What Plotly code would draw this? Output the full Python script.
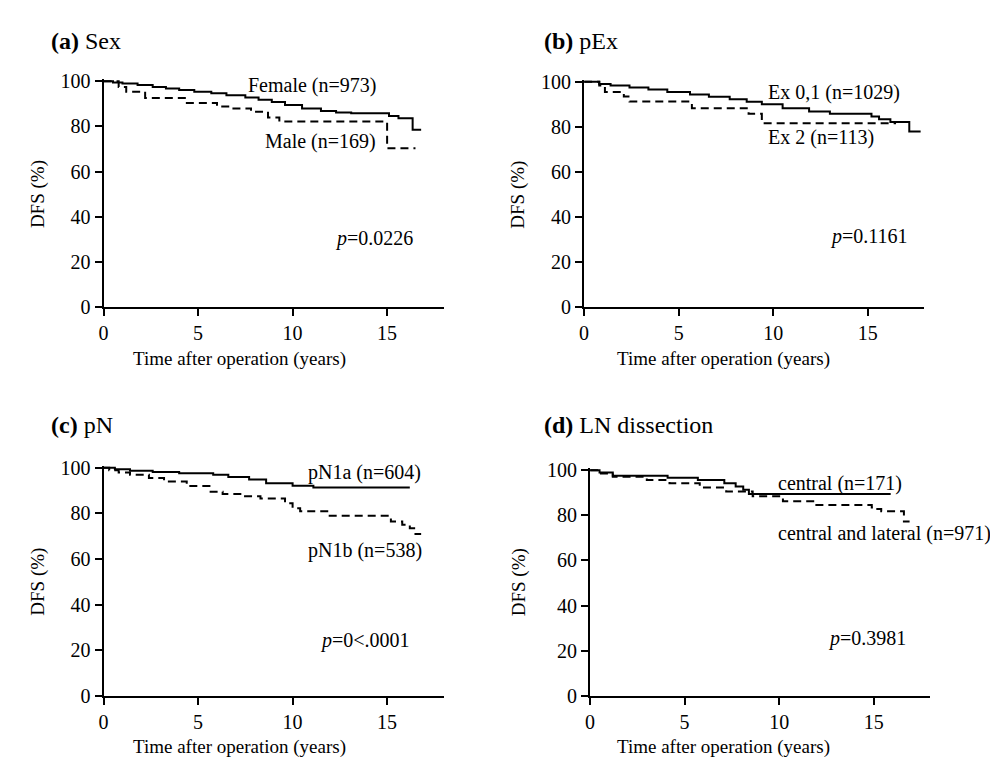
import plotly.graph_objects as go

# ---------------- data (Kaplan-Meier step curves, DFS %) ----------------
female_t = [0, 0.5, 1.0, 1.8, 2.6, 3.3, 4.0, 4.8, 5.7, 6.5, 7.5, 8.2, 8.9, 9.6, 10.5, 11.5, 12.3, 13.1, 15.1, 15.6, 16.35, 16.8]
female_v = [100, 99.5, 99, 98.3, 97.5, 96.8, 96.1, 95.4, 94.7, 93.8, 92.8, 91.8, 90.8, 89.5, 87.9, 86.8, 86.2, 85.8, 84.6, 83.6, 78.5, 78.5]
male_t = [0, 0.8, 1.2, 2.2, 4.3, 6.0, 6.8, 7.8, 8.7, 9.3, 15.0, 16.5]
male_v = [100, 97.5, 95.4, 92.6, 90.4, 88.8, 88.0, 86.5, 84.0, 82.2, 70.3, 70.3]

ex01_t = [0, 0.8, 1.4, 2.4, 3.4, 4.4, 5.6, 6.6, 7.7, 8.6, 9.4, 10.5, 11.9, 13.0, 15.2, 15.6, 16.2, 17.2, 17.8]
ex01_v = [100, 99, 98.3, 97.5, 96.6, 95.5, 94.4, 93.4, 92.2, 91.1, 90, 88.2, 86.8, 85.8, 84.6, 83.4, 82.2, 77.9, 77.9]
ex2_t = [0, 0.8, 1.1, 2.1, 2.4, 5.7, 8.7, 9.4, 16.5]
ex2_v = [100, 98.3, 95.4, 93.5, 91.2, 88.3, 85.8, 81.6, 81.6]

pn1a_t = [0, 0.6, 1.4, 2.6, 4.0, 5.8, 6.6, 7.7, 8.6, 10.0, 11.1, 16.2]
pn1a_v = [100, 99.4, 98.7, 98.2, 97.6, 97.0, 96.0, 94.9, 93.2, 92.1, 91.4, 91.4]
pn1b_t = [0, 0.3, 0.8, 1.4, 2.4, 3.2, 4.4, 5.6, 6.3, 7.4, 8.3, 9.6, 10.0, 10.4, 11.9, 15.2, 15.8, 16.2, 16.5, 16.8]
pn1b_v = [100, 99, 98, 97, 95.5, 94, 92, 89.5, 88.5, 87.5, 86.5, 84.5, 82.3, 81, 79, 76.5, 75, 73.5, 71, 71]

central_t = [0, 0.5, 1.2, 4.1, 5.7, 7.1, 7.7, 8.1, 8.4, 15.9]
central_v = [100, 99, 97.6, 96.7, 95.7, 94.3, 92.8, 91.4, 89.5, 89.5]
lateral_t = [0, 0.5, 1.2, 3.0, 4.2, 5.8, 7.2, 8.6, 10.2, 11.9, 14.9, 15.1, 15.4, 16.6, 16.9]
lateral_v = [100, 98.6, 97.1, 95.7, 94.3, 92.4, 90.6, 88.5, 86.3, 84.6, 83.5, 82.8, 81.8, 77.3, 77.3]

x_ticks = [0, 5, 10, 15]
y_ticks = [0, 20, 40, 60, 80, 100]

W, H = 998, 763
FONT = "Liberation Serif, Times New Roman, serif"


def px(x):
    return x / W


def py(y):
    return 1 - y / H


# panel geometry in pixels: origin x, y of value 0, px per year, px per %
panels = [
    dict(ox=91, y0=298, ppx=19.0, ppy=2.32),
    dict(ox=574, y0=298, ppx=19.0, ppy=2.315),
    dict(ox=91, y0=697, ppx=19.0, ppy=2.34),
    dict(ox=580, y0=697, ppx=19.0, ppy=2.315),
]
XMAX, YMAX = 18.0, 100.8

fig = go.Figure()
layout_axes = {}
for i, p in enumerate(panels, start=1):
    sfx = "" if i == 1 else str(i)
    x1 = p["ox"] + XMAX * p["ppx"]
    ytop = p["y0"] - YMAX * p["ppy"]
    common = dict(showline=True, linecolor="black", linewidth=2, ticks="outside",
                  ticklen=7, tickwidth=2, tickcolor="black", showgrid=False,
                  zeroline=False, tickfont=dict(family=FONT, size=20, color="black"))
    layout_axes["xaxis" + sfx] = dict(domain=[px(p["ox"]), px(x1)], range=[0, XMAX],
                                       tickvals=x_ticks, anchor="y" + sfx, **common)
    layout_axes["yaxis" + sfx] = dict(domain=[py(p["y0"]), py(ytop)], range=[0, YMAX],
                                       tickvals=y_ticks, anchor="x" + sfx, **common)

series = [
    (female_t, female_v, 1, "solid"), (male_t, male_v, 1, "8px,5px"),
    (ex01_t, ex01_v, 2, "solid"), (ex2_t, ex2_v, 2, "8px,5px"),
    (pn1a_t, pn1a_v, 3, "solid"), (pn1b_t, pn1b_v, 3, "8px,5px"),
    (central_t, central_v, 4, "solid"), (lateral_t, lateral_v, 4, "8px,5px"),
]
for t, v, k, dash in series:
    sfx = "" if k == 1 else str(k)
    fig.add_trace(go.Scatter(x=t, y=v, mode="lines", line=dict(color="black", width=2, dash=dash, shape="hv"),
                             xaxis="x" + sfx, yaxis="y" + sfx, showlegend=False, hoverinfo="skip"))

ann = []


def text(x, y, s, size=20, xanchor="left", angle=0):
    ann.append(dict(x=px(x), y=py(y), xref="paper", yref="paper", text=s, showarrow=False,
                    xanchor=xanchor, yanchor="middle", textangle=angle, borderpad=0,
                    font=dict(family=FONT, size=size, color="black")))


# panel titles
text(37, 25, "<b>(a)</b> Sex", size=24)
text(533, 25, "<b>(b)</b> pEx", size=24)
text(37, 419, "<b>(c)</b> pN", size=24)
text(533, 419, "<b>(d)</b> LN dissection", size=24)

# curve labels
text(235, 70, "Female (n=973)")
text(252, 128, "Male (n=169)")
text(323, 227, "<i>p</i>=0.0226")
text(758, 78, "Ex 0,1 (n=1029)")
text(758, 124, "Ex 2 (n=113)")
text(820, 225, "<i>p</i>=0.1161")
text(295, 468, "pN1a (n=604)")
text(295, 548, "pN1b (n=538)")
text(308, 640, "<i>p</i>=0<.0001")
text(768, 479, "central (n=171)")
text(768, 530, "central and lateral (n=971)")
text(818, 638, "<i>p</i>=0.3981")

# axis titles
for (cx, cy) in [(228, 351), (714, 351), (228, 750), (714, 750)]:
    text(cx, cy, "Time after operation (years)", size=19, xanchor="center")
for (cx, cy) in [(25, 182), (508, 182), (25, 580), (508, 580)]:
    text(cx, cy, "DFS (%)", size=19, xanchor="center", angle=-90)

fig.update_layout(
    width=W, height=H, margin=dict(l=0, r=0, t=0, b=0),
    paper_bgcolor="white", plot_bgcolor="white",
    annotations=ann,
    shapes=[dict(type="line", xref="paper", yref="paper", x0=px(994.5), x1=px(994.5),
                 y0=py(745), y1=1, line=dict(color="red", width=3))],
    **layout_axes,
)

fig.write_html("out.html")
